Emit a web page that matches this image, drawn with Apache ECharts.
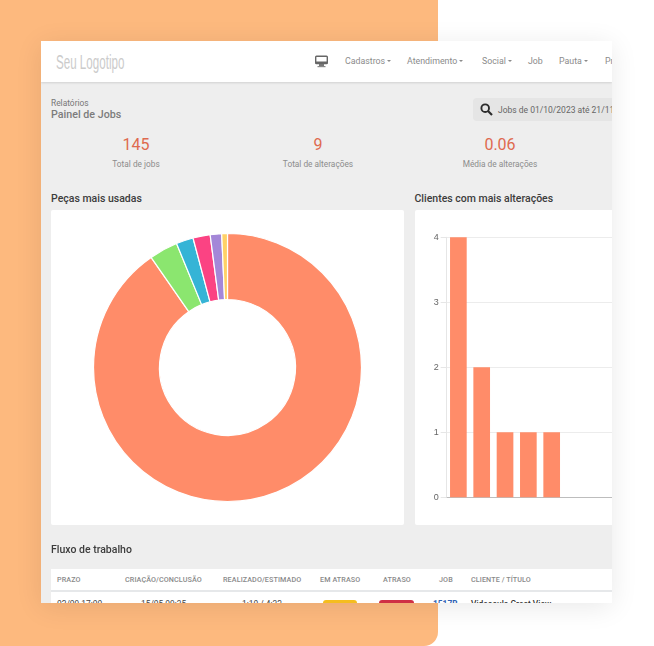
<!DOCTYPE html>
<html lang="pt-BR">
<head>
<meta charset="utf-8">
<title>Painel de Jobs</title>
<script src="https://cdn.jsdelivr.net/npm/echarts@6/dist/echarts.min.js"></script>
<style>
html,body{margin:0;padding:0;background:#fff}
body{width:654px;height:646px;position:relative;overflow:hidden;font-family:Roboto,"Noto Sans",sans-serif}
#orange{position:absolute;left:-20px;top:-20px;width:458px;height:666px;background:#fdb97e;border-radius:14px}
#win{position:absolute;left:41px;top:41px;width:571px;height:562px;background:#eee;overflow:hidden;box-shadow:0 4px 26px rgba(0,0,0,.09)}
.t{position:absolute;white-space:nowrap;line-height:1}
.c{transform:translateX(-50%)}
#head{position:absolute;left:0;top:0;width:571px;height:41px;background:#fff;box-shadow:0 1px 2px rgba(0,0,0,.12)}
#logo{left:15px;top:10px;font:20px "Liberation Sans Narrow","Liberation Sans",sans-serif;color:#cbcbcb;transform-origin:0 50%;transform:scaleX(.58)}
.nav{top:16px;font-size:8.8px;color:#8b8b8b}
.nav i{display:inline-block;border:2px solid transparent;border-top-color:#8b8b8b;border-bottom:0;margin-left:2px;vertical-align:2px}
#pill{position:absolute;left:432px;top:57px;width:150px;height:23px;background:#e5e5e5;border-radius:4px}
.card{position:absolute;background:#fff;border-radius:2px}
.kn{top:95.5px;font-size:16px;color:#df6a4f}
.kl{top:119px;font-size:8.3px;color:#8c8c8c}
.sec{font-size:10.5px;font-weight:500;color:#3c3c3c}
.th{top:534.5px;font-size:7.2px;font-weight:500;color:#8a8a8a;letter-spacing:.1px}
.td{top:558.5px;font-size:8.4px;color:#444}
.badge{position:absolute;top:558.5px;height:14px;border-radius:3px;color:#fff;font-size:8px;font-weight:700;text-align:center;line-height:14px}
#chart{position:absolute;left:0;top:0;width:571px;height:562px}
</style>
</head>
<body>
<div id="orange"></div>
<div id="win">
  <div id="head"></div>
  <div class="t" id="logo">Seu Logotipo</div>
  <svg style="position:absolute;left:273px;top:14px" width="15" height="13" viewBox="0 0 15 13"><rect x="1.7" y="1.2" width="11.6" height="7.4" rx="0.8" fill="#fff" stroke="#666" stroke-width="1.4"/><rect x="1.7" y="6.5" width="11.6" height="2.3" fill="#666"/><rect x="5" y="9" width="5" height="2" fill="#777"/><rect x="3.5" y="11" width="8" height="1.2" fill="#888"/></svg>
  <div class="t nav" style="left:304px">Cadastros<i></i></div>
  <div class="t nav" style="left:366px">Atendimento<i></i></div>
  <div class="t nav" style="left:441px">Social<i></i></div>
  <div class="t nav" style="left:487px">Job</div>
  <div class="t nav" style="left:518px">Pauta<i></i></div>
  <div class="t nav" style="left:564px">Produção</div>

  <div class="t" style="left:10px;top:58px;font-size:8.4px;color:#777">Relatórios</div>
  <div class="t" style="left:10px;top:68.5px;font-size:10.7px;font-weight:500;color:#7c7c7c">Painel de Jobs</div>

  <div id="pill"></div>
  <svg style="position:absolute;left:439px;top:62px" width="13" height="13" viewBox="0 0 13 13"><circle cx="5.2" cy="5.2" r="3.8" fill="none" stroke="#2b2b2b" stroke-width="1.9"/><line x1="8" y1="8" x2="12" y2="12" stroke="#2b2b2b" stroke-width="2.2"/></svg>
  <div class="t" style="left:457px;top:64.5px;font-size:8.5px;color:#666">Jobs de 01/10/2023 até 21/11/2023</div>

  <div class="t c kn" style="left:95px">145</div>
  <div class="t c kl" style="left:95px">Total de jobs</div>
  <div class="t c kn" style="left:277px">9</div>
  <div class="t c kl" style="left:277px">Total de alterações</div>
  <div class="t c kn" style="left:459px">0.06</div>
  <div class="t c kl" style="left:459px">Média de alterações</div>

  <div class="t sec" style="left:10px;top:153px">Peças mais usadas</div>
  <div class="t sec" style="left:373.5px;top:153px">Clientes com mais alterações</div>
  <div class="card" style="left:10px;top:169px;width:353px;height:315px"></div>
  <div class="card" style="left:374px;top:169px;width:220px;height:315px"></div>
  <div id="chart"></div>

  <div class="t sec" style="left:10px;top:504px">Fluxo de trabalho</div>
  <div style="position:absolute;left:10px;top:528px;width:561px;height:21px;background:#fff"></div>
  <div style="position:absolute;left:10px;top:549px;width:561px;height:2px;background:#e6e8ea"></div>
  <div style="position:absolute;left:10px;top:551px;width:561px;height:11px;background:#fff"></div>
  <div class="t th" style="left:16px">PRAZO</div>
  <div class="t th" style="left:84px">CRIAÇÃO/CONCLUSÃO</div>
  <div class="t th" style="left:182px">REALIZADO/ESTIMADO</div>
  <div class="t th" style="left:279px">EM ATRASO</div>
  <div class="t th" style="left:342px">ATRASO</div>
  <div class="t th" style="left:398px">JOB</div>
  <div class="t th" style="left:430px">CLIENTE / TÍTULO</div>
  <div class="t td" style="left:16px">02/09 17:00</div>
  <div class="t td" style="left:100px">15/05 09:35</div>
  <div class="t td" style="left:201px">1:10 / 4:32</div>
  <div class="badge" style="left:282px;width:34px;background:#f5bd1f">18 Dias</div>
  <div class="badge" style="left:338px;width:35px;background:#cf3045">24 Dias</div>
  <div class="t td" style="left:392px;font-weight:700;color:#2f62b4">1517B</div>
  <div class="t td" style="left:430px;font-weight:500;color:#333">Videoaula Great View</div>
</div>
<script>
const pieceNames = ['Peça A','Peça B','Peça C','Peça D','Peça E','Peça F'];
const pieceValues = [131,5,3,3,2,1];
const pieceColors = ['#ff8c69','#8be66f','#35b4d6','#fb4383','#a487d8','#ffd166'];
const clientNames = ['Cliente 1','Cliente 2','Cliente 3','Cliente 4','Cliente 5','Cliente 6','Cliente 7','Cliente 8','Cliente 9','Cliente 10'];
const clientValues = [4,2,1,1,1];
const chart = echarts.init(document.getElementById('chart'), null, {renderer:'canvas'});
chart.setOption({
  animation:false,
  backgroundColor:'transparent',
  grid:{left:405.7,top:196.3,width:233.3,height:260,containLabel:false,outerBoundsMode:'none'},
  xAxis:{type:'category',data:clientNames,axisLabel:{show:false},axisTick:{show:false},
    axisLine:{lineStyle:{color:'#bdbdbd',width:1}},splitLine:{show:false}},
  yAxis:{type:'value',min:0,max:4,interval:1,
    axisLine:{show:true,lineStyle:{color:'#e6e6e6',width:1}},
    axisTick:{show:true,length:6,lineStyle:{color:'#e6e6e6'}},
    axisLabel:{color:'#666',fontSize:9,margin:8,fontFamily:'"Liberation Sans",Arial,sans-serif'},
    splitLine:{show:true,lineStyle:{color:'#ececec',width:1}}},
  series:[
    {type:'pie',center:[186.5,326.5],radius:[68,134],startAngle:90,clockwise:true,
     label:{show:false},labelLine:{show:false},silent:true,
     itemStyle:{borderColor:'#fff',borderWidth:1.2},
     data:pieceValues.map((v,i)=>({name:pieceNames[i],value:v,itemStyle:{color:pieceColors[i]}}))},
    {type:'bar',data:clientValues,barWidth:16.67,itemStyle:{color:'#ff8c69'},silent:true}
  ]
});
</script>
</body>
</html>
